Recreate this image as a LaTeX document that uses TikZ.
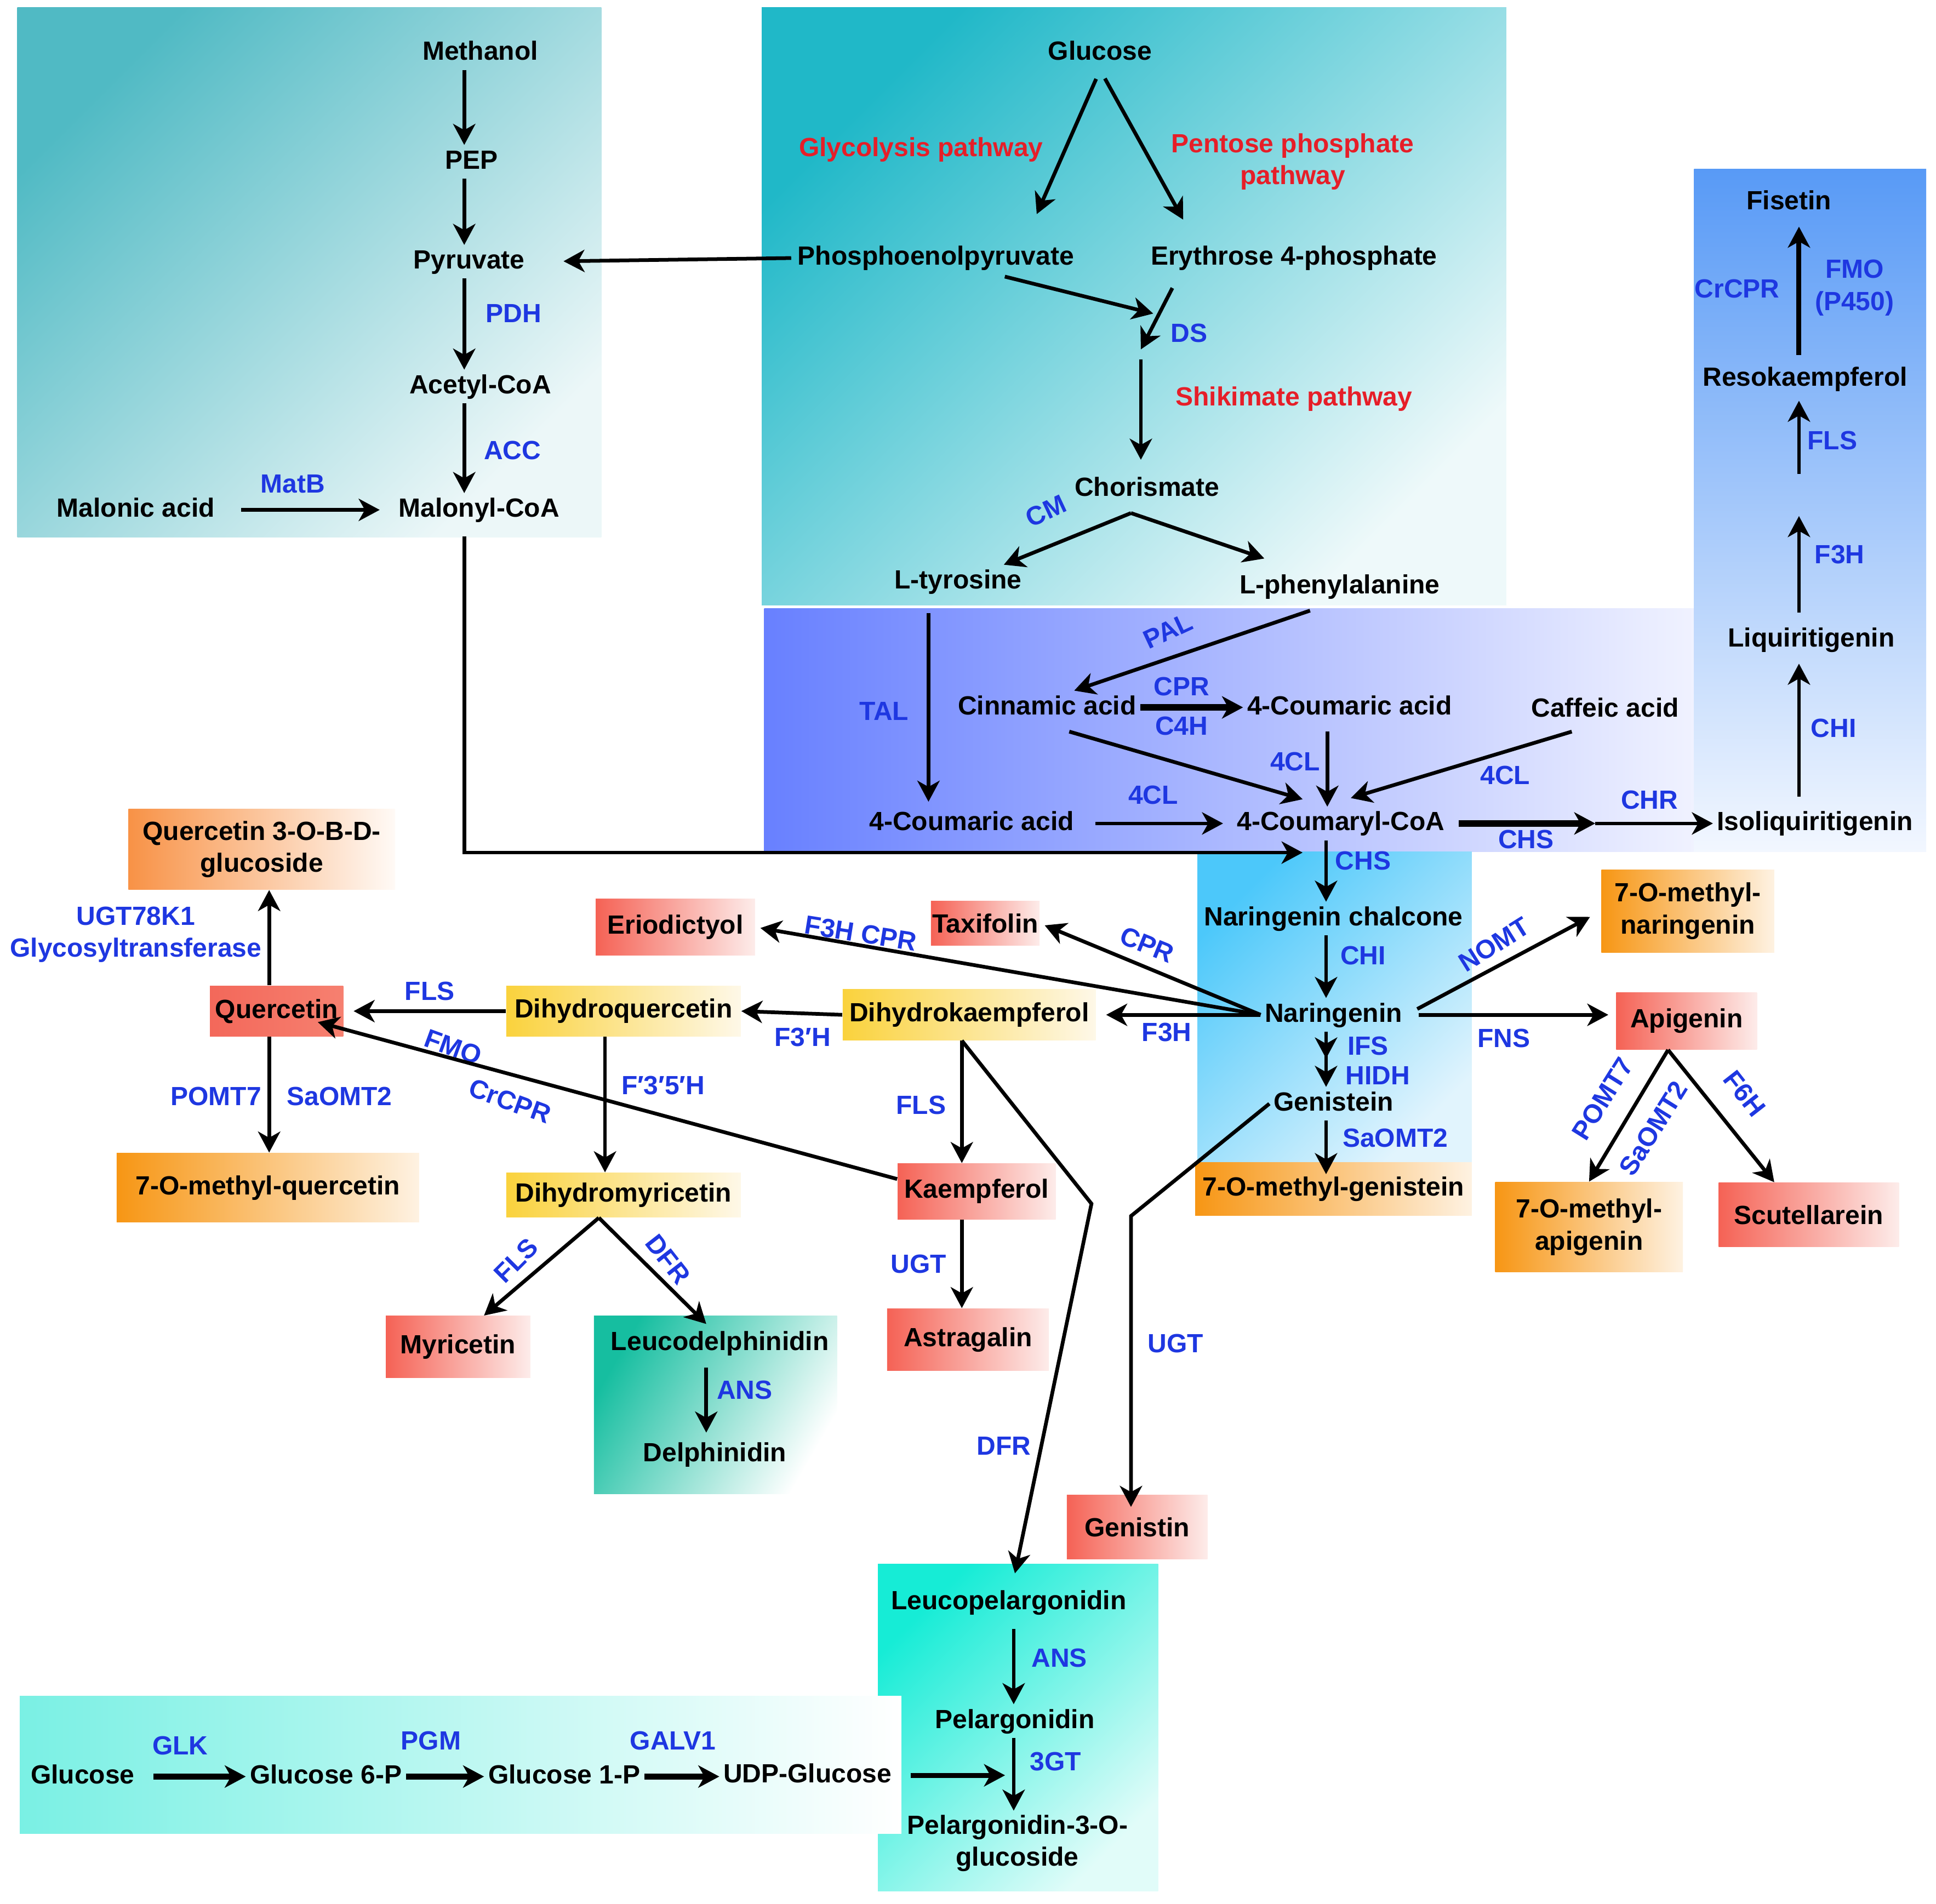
\documentclass[tikz,border=0pt]{standalone}
\usepackage{fontspec}
\setmainfont{Liberation Sans}
\usetikzlibrary{arrows.meta}

\definecolor{enzblue}{RGB}{30,55,225}
\definecolor{pwred}{RGB}{230,30,40}
\definecolor{tlA}{RGB}{80,186,196}
\definecolor{tlB}{RGB}{236,247,248}
\definecolor{tmA}{RGB}{32,184,200}
\definecolor{tmB}{RGB}{238,249,250}
\definecolor{lavA}{RGB}{104,128,255}
\definecolor{lavB}{RGB}{240,242,255}
\definecolor{rbA}{RGB}{88,154,246}
\definecolor{rbB}{RGB}{242,247,255}
\definecolor{skyA}{RGB}{76,200,250}
\definecolor{skyB}{RGB}{225,244,253}
\definecolor{tqA}{RGB}{22,236,214}
\definecolor{tqB}{RGB}{225,252,249}
\definecolor{aqA}{RGB}{122,240,228}
\definecolor{tgA}{RGB}{22,190,160}
\definecolor{redA}{RGB}{245,98,85}
\definecolor{redB}{RGB}{253,236,234}
\definecolor{qrA}{RGB}{243,104,90}
\definecolor{qrB}{RGB}{246,128,112}
\definecolor{yelA}{RGB}{250,210,60}
\definecolor{yelB}{RGB}{254,248,232}
\definecolor{orA}{RGB}{247,150,20}
\definecolor{orB}{RGB}{254,242,226}
\definecolor{or2A}{RGB}{248,146,70}
\definecolor{or2B}{RGB}{255,250,246}

\begin{document}
\begin{tikzpicture}[x=0.5pt, y=-0.5pt,
  txt/.style={font=\fontsize{10.65}{13}\selectfont\bfseries, inner sep=1.5pt},
  cmp/.style={txt, text height=8pt, text depth=2.2pt},
  enz/.style={txt, text=enzblue},
  pw/.style={txt, text=pwred, align=center},
  prod/.style={txt, inner sep=0pt, left color=#1A, right color=#1B},
  arr/.style={-{Stealth[length=8.5pt,width=9pt,inset=2.5pt]}, line width=1.5pt},
  fat/.style={arr, line width=2.5pt},
  dbl/.style={line width=1.5pt, -{Stealth[length=8.5pt,width=9pt,inset=2.5pt,sep=3pt]Stealth[length=8.5pt,width=9pt,inset=2.5pt]}},
]
\useasboundingbox (0,0) rectangle (1568,1542);

% background panels
\shade[top color=tlA, bottom color=tlB, shading angle=45] (14,6) rectangle (487,435);
\shade[top color=tmA, bottom color=tmB, shading angle=45] (617,6) rectangle (1220,490);
\shade[left color=lavA, right color=lavB] (619,493) rectangle (1372,690);
\shade[top color=rbA, bottom color=rbB] (1372,137) rectangle (1560,690);
\shade[top color=skyA, bottom color=skyB, shading angle=45] (970,690) rectangle (1192,942);
\shade[top color=tqA, bottom color=tqB, shading angle=45] (711,1267) rectangle (938,1532);
\shade[left color=aqA, right color=white] (16,1374) rectangle (730,1485);
\shade[top color=tgA, bottom color=white, shading angle=60] (481,1066) rectangle (678,1210);

% helper coordinates
\coordinate (xA) at (376,0);
\coordinate (xB) at (752,0);
\coordinate (xR) at (1457,0);
\coordinate (xC) at (1074,0);
\coordinate (xP) at (821,0);
\coordinate (dsA) at (934,254);
\coordinate (dsB) at (924,283);
\coordinate (ds) at (924,291);
\coordinate (gapT) at (1457,418);
\coordinate (gapB) at (1457,384);
\coordinate (chsmid) at (1292,667);
\coordinate (dfrbend) at (884,975);
\coordinate (ugtbend) at (916,985);
\coordinate (gtin) at (814,1438);

% methanol route
\node[cmp] (methanol) at (389,43) {Methanol};
\node[cmp] (pep) at (382,131) {PEP};
\node[cmp] (pyr) at (380,212) {Pyruvate};
\node[cmp] (acoa) at (389,313) {Acetyl-CoA};
\node[cmp] (malacid) at (110,413) {Malonic acid};
\node[cmp] (mcoa) at (388,413) {Malonyl-CoA};
\node[enz] (ePDH) at (416,254) {PDH};
\node[enz] (eACC) at (415,365) {ACC};
\node[enz] (eMatB) at (237,392) {MatB};

% glucose to aromatic amino acids
\node[cmp] (glc) at (891,43) {Glucose};
\node[pw] (glyc) at (746,121) {Glycolysis pathway};
\node[pw] (ppp) at (1047,131) {Pentose phosphate\\pathway};
\node[cmp] (pepl) at (758,209) {Phosphoenolpyruvate};
\node[cmp] (e4p) at (1048,209) {Erythrose 4-phosphate};
\node[enz] (eDS) at (963,270) {DS};
\node[pw] (shik) at (1048,323) {Shikimate pathway};
\node[cmp] (chor) at (929,396) {Chorismate};
\node[enz, rotate=25] (eCM) at (847,414) {CM};
\node[cmp] (tyr) at (776,471) {L-tyrosine};
\node[cmp] (phe) at (1085,475) {L-phenylalanine};

% phenylpropanoid part
\node[cmp] (cinn) at (848,573) {Cinnamic acid};
\node[cmp] (cou1) at (1093,573) {4-Coumaric acid};
\node[cmp] (caff) at (1300,575) {Caffeic acid};
\node[cmp] (cou2) at (787,667) {4-Coumaric acid};
\node[cmp] (coa) at (1086,667) {4-Coumaryl-CoA};
\node[cmp] (isoliq) at (1470,667) {Isoliquiritigenin};
\node[enz] (eTAL) at (716,576) {TAL};
\node[enz, rotate=25] (ePAL) at (946,511) {PAL};
\node[enz] (eCPR1) at (957,556) {CPR};
\node[enz] (eC4H) at (957,588) {C4H};
\node[enz] (e4CL1) at (1049,617) {4CL};
\node[enz] (e4CL2) at (934,644) {4CL};
\node[enz] (e4CL3) at (1219,628) {4CL};
\node[enz] (eCHR) at (1336,648) {CHR};
\node[enz] (eCHS1) at (1236,680) {CHS};

% fisetin branch
\node[cmp] (fis) at (1449,164) {Fisetin};
\node[cmp] (reso) at (1462,307) {Resokaempferol};
\node[cmp] (liq) at (1467,518) {Liquiritigenin};
\node[enz] (eCrCPR1) at (1407,234) {CrCPR};
\node[enz, align=center] (eFMO1) at (1502,233) {FMO\\(P450)};
\node[enz] (eFLS1) at (1484,357) {FLS};
\node[enz] (eF3H1) at (1490,449) {F3H};
\node[enz] (eCHI1) at (1485,590) {CHI};

% naringenin core
\node[cmp] (narch) at (1080,744) {Naringenin chalcone};
\node[cmp] (nar) at (1080,822) {Naringenin};
\node[cmp] (gen) at (1080,894) {Genistein};
\node[enz] (eCHS2) at (1104,697) {CHS};
\node[enz] (eCHI2) at (1104,774) {CHI};
\node[enz] (eIFS) at (1108,847) {IFS};
\node[enz] (eHIDH) at (1116,871) {HIDH};
\node[enz] (eSaOMT1) at (1130,922) {SaOMT2};

% products
\node[prod=or2, minimum width=108pt, minimum height=32.5pt, align=center] (qglc) at (212,688) {Quercetin 3-O-B-D-\\glucoside};
\node[prod=red, minimum width=64.5pt, minimum height=23pt] (erio) at (547,751) {Eriodictyol};
\node[prod=red, minimum width=44pt, minimum height=18pt] (taxi) at (798,748) {Taxifolin};
\node[prod=qr, minimum width=54pt, minimum height=20.5pt] (quer) at (224,819) {Quercetin};
\node[prod=yel, minimum width=95pt, minimum height=20.5pt] (dhq) at (505,819) {Dihydroquercetin};
\node[prod=yel, minimum width=102.5pt, minimum height=20.5pt] (dhk) at (785,822) {Dihydrokaempferol};
\node[prod=or, minimum width=122.5pt, minimum height=28pt] (mq) at (217,962) {7-O-methyl-quercetin};
\node[prod=yel, minimum width=95pt, minimum height=18pt] (dhm) at (505,968) {Dihydromyricetin};
\node[prod=red, minimum width=64pt, minimum height=22.5pt] (kaem) at (791,965) {Kaempferol};
\node[prod=red, minimum width=58.5pt, minimum height=25pt] (myr) at (371,1091) {Myricetin};
\node[prod=red, minimum width=65.5pt, minimum height=25pt] (astr) at (784,1085) {Astragalin};
\node[prod=red, minimum width=57pt, minimum height=26pt] (genistin) at (921,1237) {Genistin};
\node[prod=or, minimum width=70pt, minimum height=33.5pt, align=center] (mnar) at (1367,738) {7-O-methyl-\\naringenin};
\node[prod=red, minimum width=57pt, minimum height=23pt] (api) at (1366,827) {Apigenin};
\node[prod=or, minimum width=76pt, minimum height=36.5pt, align=center] (mapi) at (1287,994) {7-O-methyl-\\apigenin};
\node[prod=red, minimum width=73pt, minimum height=26pt] (scut) at (1465,984) {Scutellarein};
\node[prod=or, minimum width=112pt, minimum height=21.5pt] (mgen) at (1080,963) {7-O-methyl-genistein};

% anthocyanins and UDP-glucose
\node[cmp] (leucod) at (583,1088) {Leucodelphinidin};
\node[cmp] (delph) at (579,1178) {Delphinidin};
\node[enz] (eANS1) at (603,1126) {ANS};
\node[cmp] (leucop) at (817,1298) {Leucopelargonidin};
\node[cmp] (pel) at (822,1394) {Pelargonidin};
\node[txt, align=center] (pel3g) at (824,1493) {Pelargonidin-3-O-\\glucoside};
\node[enz] (eANS2) at (858,1343) {ANS};
\node[enz] (e3GT) at (855,1427) {3GT};
\node[cmp] (glc2) at (67,1439) {Glucose};
\node[cmp] (g6p) at (264,1439) {Glucose 6-P};
\node[cmp] (g1p) at (457,1439) {Glucose 1-P};
\node[cmp] (udp) at (654,1438) {UDP-Glucose};
\node[enz] (eGLK) at (146,1414) {GLK};
\node[enz] (ePGM) at (349,1410) {PGM};
\node[enz] (eGALV1) at (545,1410) {GALV1};

% branch enzymes
\node[enz] (eF3H2) at (945,836) {F3H};
\node[enz, rotate=-22] (eCPR2) at (929,765) {CPR};
\node[enz, rotate=-9] (eF3HCPR) at (697,756) {F3H CPR};
\node[enz, rotate=32] (eNOMT) at (1210,765) {NOMT};
\node[enz] (eFNS) at (1218,841) {FNS};
\node[enz, rotate=58] (ePOMT2) at (1298,890) {POMT7};
\node[enz, rotate=58] (eSaOMT3) at (1339,914) {SaOMT2};
\node[enz, rotate=-52] (eF6H) at (1413,886) {F6H};
\node[enz] (eF3pH) at (650,840) {F3′H};
\node[enz] (eFLS2) at (348,803) {FLS};
\node[enz] (eF35H) at (537,879) {F′3′5′H};
\node[enz, rotate=-20] (eFMO2) at (367,848) {FMO};
\node[enz, rotate=-20] (eCrCPR2) at (413,892) {CrCPR};
\node[enz, align=center] (eUGT78) at (110,757) {UGT78K1\\Glycosyltransferase};
\node[enz] (ePOMT1) at (175,888) {POMT7};
\node[enz] (eSaOMT2) at (275,888) {SaOMT2};
\node[enz] (eFLS3) at (746,895) {FLS};
\node[enz] (eUGT1) at (744,1024) {UGT};
\node[enz] (eDFR1) at (813,1171) {DFR};
\node[enz] (eUGT2) at (952,1088) {UGT};
\node[enz, rotate=45] (eFLS4) at (418,1021) {FLS};
\node[enz, rotate=-52] (eDFR2) at (541,1020) {DFR};

% arrows, upper left
\draw[arr] (methanol.south -| xA) -- (pep.north -| xA);
\draw[arr] (pep.south -| xA) -- (pyr.north -| xA);
\draw[arr] (pyr.south -| xA) -- (acoa.north -| xA);
\draw[arr] (acoa.south -| xA) -- (mcoa.north -| xA);
\draw[arr, shorten <=9pt, shorten >=6pt] (malacid.east) -- (mcoa.west);
\draw[arr, shorten <=1pt, shorten >=14pt] (pepl.west) -- (pyr.east);

% arrows, glucose to amino acids
\draw[arr, shorten <=4pt, shorten >=12pt] (glc.south) -- ([shift={(72,0)}]pepl.north);
\draw[arr, shorten <=4pt, shorten >=10pt] (glc.south) -- ([shift={(-80,0)}]e4p.north);
\draw[arr, shorten <=3pt] ([shift={(50,0)}]pepl.south) -- (dsA);
\draw[arr, shorten <=6pt] ([shift={(-93,0)}]e4p.south) -- (dsB);
\draw[arr, shorten >=5pt] (ds) -- (chor.north -| ds);
\draw[arr] ([shift={(-13,6)}]chor.south) -- ([shift={(37,0)}]tyr.north);
\draw[arr] ([shift={(-13,6)}]chor.south) -- ([shift={(-61,-9)}]phe.north);

% arrows, phenylpropanoids
\draw[arr, shorten <=6pt, shorten >=2pt] (tyr.south -| xB) -- (cou2.north -| xB);
\draw[arr] ([shift={(-24,6)}]phe.south) -- ([shift={(22,0)}]cinn.north);
\draw[fat] (cinn.east) -- (cou1.west);
\draw[arr] ([shift={(18,6)}]cinn.south) -- ([shift={(-31,-6)}]coa.north);
\draw[arr] ([shift={(-18,6)}]cou1.south) -- ([shift={(-11,0)}]coa.north);
\draw[arr] ([shift={(-27,4)}]caff.south) -- ([shift={(8,-7)}]coa.north);
\draw[arr, shorten <=7pt, shorten >=4pt] (cou2.east) -- (coa.west);
\draw[fat, shorten <=4pt] (coa.east) -- (chsmid);
\draw[arr] (chsmid) -- (isoliq.west);
\draw[arr, shorten <=4pt] (mcoa.south -| xA) |- ([shift={(-31,10)}]coa.south);

% arrows, fisetin branch
\draw[arr, shorten <=4pt, shorten >=3pt] (isoliq.north -| xR) -- (liq.south -| xR);
\draw[arr, shorten <=4pt] (liq.north -| xR) -- (gapT);
\draw[arr, shorten >=2pt] (gapB) -- (reso.south -| xR);
\draw[fat, line width=2pt, shorten <=3pt, shorten >=3pt] (reso.north -| xR) -- (fis.south -| xR);

% arrows, naringenin core
\draw[arr] (coa.south -| xC) -- (narch.north -| xC);
\draw[arr] (narch.south -| xC) -- (nar.north -| xC);
\draw[dbl] (nar.south -| xC) -- (gen.north -| xC);
\draw[arr, shorten >=-5pt] (gen.south -| xC) -- (mgen.north -| xC);

% arrows, branches
\draw[arr, shorten >=4pt] (nar.west) -- (dhk.east);
\draw[arr, shorten >=2pt] (nar.west) -- (taxi.east);
\draw[arr, shorten >=2pt] (nar.west) -- (erio.east);
\draw[arr, shorten <=5pt, shorten >=5pt] (nar.east) -- (mnar.west);
\draw[arr, shorten <=5pt, shorten >=3pt] (nar.east) -- (api.west |- nar.east);
\draw[arr] ([shift={(-15,0)}]api.south) -- (mapi.north);
\draw[arr] ([shift={(-15,0)}]api.south) -- ([shift={(-28,0)}]scut.north);
\draw[arr] (dhk.west) -- (dhq.east);
\draw[arr, shorten >=4pt] (dhq.west) -- (quer.east);
\draw[arr] ([shift={(-15,0)}]dhq.south) -- ([shift={(-15,0)}]dhm.north);
\draw[arr] ([shift={(0,-10)}]kaem.west) -- ([shift={(-21,-12)}]quer.south east);
\draw[arr] ([shift={(-6,0)}]quer.north) -- ([shift={(6,0)}]qglc.south);
\draw[arr] ([shift={(-6,0)}]quer.south) -- ([shift={(1,0)}]mq.north);
\draw[arr] ([shift={(-6,0)}]dhk.south) -- ([shift={(-12,0)}]kaem.north);
\draw[arr] ([shift={(-12,0)}]kaem.south) -- ([shift={(-5,0)}]astr.north);
\draw[arr] ([shift={(-6,0)}]dhk.south) -- (dfrbend) -- ([shift={(5,-10)}]leucop.north);
\draw[arr] (gen.west) -- (ugtbend) -- ([shift={(-5,10)}]genistin.north);
\draw[arr] ([shift={(-20,0)}]dhm.south) -- ([shift={(21,0)}]myr.north);
\draw[arr] ([shift={(-20,0)}]dhm.south) -- ([shift={(-11,-2)}]leucod.north);
\draw[arr] ([shift={(-11,6)}]leucod.south) -- ([shift={(-7,-4)}]delph.north);

% arrows, pelargonidin and UDP-glucose
\draw[arr, shorten <=4pt] (leucop.south -| xP) -- (pel.north -| xP);
\draw[arr] (pel.south -| xP) -- (pel3g.north -| xP);
\draw[arr, line width=2pt, shorten <=6pt] (udp.east) -- (gtin);
\draw[fat, shorten <=6pt] (glc2.east) -- (g6p.west);
\draw[fat] (g6p.east) -- (g1p.west);
\draw[fat] (g1p.east) -- (udp.west |- g1p.east);
\end{tikzpicture}
\end{document}
